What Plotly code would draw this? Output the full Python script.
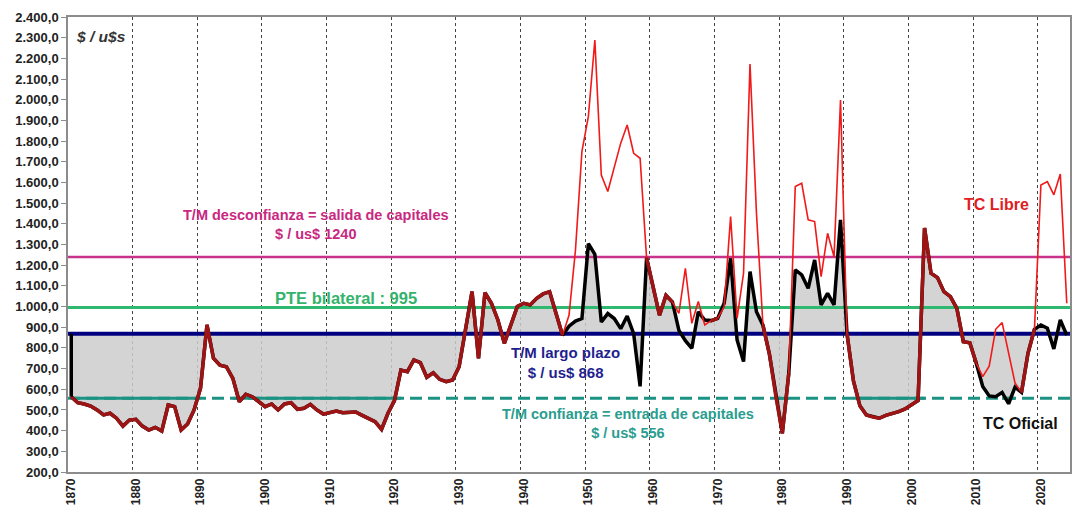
import plotly.graph_objects as go

years = list(range(1870, 2025))

tc_oficial = [
    564, 535, 529, 519, 500, 476, 484, 460, 422, 451,      # 1870s
    455, 422, 403, 416, 398, 524, 516, 403, 432, 500,      # 1880s
    605, 911, 750, 717, 709, 653, 540, 576, 564, 540,      # 1890s
    516, 529, 500, 529, 535, 503, 508, 527, 500, 480,      # 1900s
    489, 495, 487, 487, 490, 474, 460, 443, 406, 484,      # 1910s
    545, 693, 685, 742, 729, 658, 680, 648, 637, 645,      # 1920s
    709, 903, 1072, 750, 1067, 1016, 935, 822, 911, 1000,  # 1930s
    1016, 1008, 1040, 1061, 1072, 968, 861, 905, 930, 942, # 1940s
    1304, 1253, 925, 966, 942, 893, 954, 869, 614, 1235,   # 1950s
    1087, 958, 1054, 1022, 885, 835, 798, 975, 935, 932,   # 1960s
    943, 1016, 1233, 838, 734, 1169, 975, 910, 770, 565,   # 1970s
    387, 677, 1177, 1153, 1088, 1225, 1008, 1064, 1008, 1419,  # 1980s
    870, 640, 520, 476, 466, 460, 474, 482, 492, 505,      # 1990s
    524, 546, 1380, 1161, 1140, 1072, 1048, 991, 830, 825, # 2000s
    726, 613, 568, 564, 585, 530, 610, 585, 774, 890,      # 2010s
    911, 895, 795, 935, 862,                               # 2020-2024
]

tc_libre = [
    564, 535, 529, 519, 500, 476, 484, 460, 422, 451,
    455, 422, 403, 416, 398, 524, 516, 403, 432, 500,
    605, 911, 750, 717, 709, 653, 540, 576, 564, 540,
    516, 529, 500, 529, 535, 503, 508, 527, 500, 480,
    489, 495, 487, 487, 490, 474, 460, 443, 406, 484,
    545, 693, 685, 742, 729, 658, 680, 648, 637, 645,
    709, 903, 1072, 750, 1067, 1016, 935, 822, 911, 1000,
    1016, 1008, 1040, 1061, 1072, 968, 861, 958, 1272, 1750,
    1920, 2289, 1636, 1556, 1670, 1790, 1878, 1741, 1717, 1235,
    1087, 958, 1054, 1022, 967, 1185, 919, 1024, 911, 932,
    943, 1000, 1435, 943, 1161, 2173, 1451, 910, 770, 565,
    387, 677, 1580, 1596, 1419, 1411, 1145, 1354, 1241, 1999,
    870, 640, 520, 476, 466, 460, 474, 482, 492, 505,
    524, 546, 1380, 1161, 1140, 1072, 1048, 991, 830, 825,
    726, 661, 712, 890, 922, 774, 630, 585, 774, 890,
    1588, 1604, 1540, 1641, 1016,
]

x_tick_vals = [1870, 1880, 1890, 1900, 1910, 1920, 1930, 1940, 1950, 1960,
               1970, 1980, 1990, 2000, 2010, 2020, 2024]
x_tick_text = ["1870", "1880", "1890", "1900", "1910", "1920", "1930", "1940",
               "1950", "1960", "1970", "1980", "1990", "2000", "2010", "2020", "MAR 24"]
y_tick_vals = list(range(200, 2500, 100))
y_tick_text = [f"{v:,}".replace(",", ".") + ",0" for v in y_tick_vals]

TM_DESCONFIANZA = 1240
PTE_BILATERAL = 995
TM_LARGO_PLAZO = 868
TM_CONFIANZA = 556

X_MIN = years[0] - 0.5
X_MAX = years[-1] + 0.5

MAGENTA = "#c8328a"
GREEN = "#2fb870"
NAVY = "#000080"
TEAL = "#1b9282"
RED = "#f01a1a"
MAROON = "#9e1414"
FONT = "Arial, Liberation Sans"

fig = go.Figure()

# baseline for the fill
fig.add_trace(go.Scatter(x=years, y=[TM_LARGO_PLAZO] * len(years), mode="lines",
                         line=dict(width=0), hoverinfo="skip", showlegend=False))
# gray area between TC oficial and long-term level
fig.add_trace(go.Scatter(x=years, y=tc_oficial, mode="lines", line=dict(width=0),
                         fill="tonexty", fillcolor="rgba(205,205,205,0.85)",
                         hoverinfo="skip", showlegend=False))

# horizontal reference levels
fig.add_trace(go.Scatter(x=[X_MIN, X_MAX], y=[TM_CONFIANZA] * 2, mode="lines",
                         line=dict(color=TEAL, width=3, dash="12px,6px"), showlegend=False))
solid_conf = []
for i, v in enumerate(tc_oficial):
    near = tc_oficial[max(0, i - 1):i + 2]
    solid_conf.append(TM_CONFIANZA if min(near) < TM_CONFIANZA else None)
fig.add_trace(go.Scatter(x=years, y=solid_conf, mode="lines",
                         line=dict(color=TEAL, width=3), showlegend=False))
fig.add_trace(go.Scatter(x=[X_MIN, X_MAX], y=[TM_DESCONFIANZA] * 2, mode="lines",
                         line=dict(color=MAGENTA, width=2.5), showlegend=False))
fig.add_trace(go.Scatter(x=[X_MIN, X_MAX], y=[PTE_BILATERAL] * 2, mode="lines",
                         line=dict(color=GREEN, width=3), showlegend=False))
fig.add_trace(go.Scatter(x=[X_MIN, X_MAX], y=[TM_LARGO_PLAZO] * 2, mode="lines",
                         line=dict(color=NAVY, width=4), showlegend=False))

# series
fig.add_trace(go.Scatter(x=years, y=tc_oficial, mode="lines", name="TC Oficial",
                         line=dict(color="#000000", width=3.5), showlegend=False))
fig.add_trace(go.Scatter(x=years, y=tc_libre, mode="lines", name="TC Libre",
                         line=dict(color=RED, width=1.6), showlegend=False))
common = [o if o == l else None for o, l in zip(tc_oficial, tc_libre)]
fig.add_trace(go.Scatter(x=years, y=common, mode="lines", name="común",
                         line=dict(color=MAROON, width=3.5), showlegend=False))

fig.add_shape(type="line", x0=years[0], x1=years[0], y0=tc_oficial[0], y1=TM_LARGO_PLAZO,
              xref="x", yref="y", line=dict(color="#000000", width=3.5))

def ann(text, x, y, color, size, italic=False, xanchor="center"):
    fig.add_annotation(text=text, x=x, y=y, xref="paper", yref="paper",
                       showarrow=False, xanchor=xanchor, yanchor="middle", align="center",
                       font=dict(family=FONT, size=size, color=color,
                                 weight="bold", style="italic" if italic else "normal"))

ann("$ / u$s", 0.006, 0.957, "#333333", 15.5, italic=True, xanchor="left")
ann("T/M desconfianza = salida de capitales<br>$ / us$ 1240", 0.2475, 0.543, "#c8287f", 14.5)
ann("PTE bilateral : 995", 0.2775, 0.382, "#33b36b", 16.5)
ann("T/M largo plazo<br>$ / us$ 868", 0.497, 0.2396, "#1f1f8f", 15)
ann("T/M confianza = entrada de capitales<br>$ / us$ 556", 0.559, 0.1055, "#2a9d8f", 14.5)
ann("TC Libre", 0.927, 0.587, "#e0201e", 16)
ann("TC Oficial", 0.951, 0.1055, "#111111", 16)

fig.update_layout(
    width=1073, height=515,
    margin=dict(l=68, r=3, t=17, b=43),
    paper_bgcolor="white", plot_bgcolor="white",
    xaxis=dict(range=[X_MIN, X_MAX], tickmode="array", tickvals=x_tick_vals,
               ticktext=x_tick_text, tickangle=-90, showgrid=False, zeroline=False,
               automargin=False,
               tickfont=dict(family=FONT, size=12, color="#222222", weight="bold"),
               showline=True, linecolor="#8c8c8c", linewidth=1.5, mirror=True, ticks="",
               minor=dict(tick0=X_MIN, dtick=10, showgrid=True, griddash="dot",
                          gridcolor="#444444", gridwidth=1, ticks="")),
    yaxis=dict(range=[200, 2400], tickmode="array", tickvals=y_tick_vals,
               ticktext=y_tick_text, showgrid=False, zeroline=False, automargin=False,
               tickfont=dict(family=FONT, size=13, color="#222222", weight="bold"),
               showline=True, linecolor="#8c8c8c", linewidth=1.5, mirror=True,
               ticks="outside", ticklen=5, tickcolor="#8c8c8c"),
)

fig.write_html("out.html", config={"displayModeBar": False},
               post_script="document.body.style.margin='0';document.body.style.overflow='hidden';")
